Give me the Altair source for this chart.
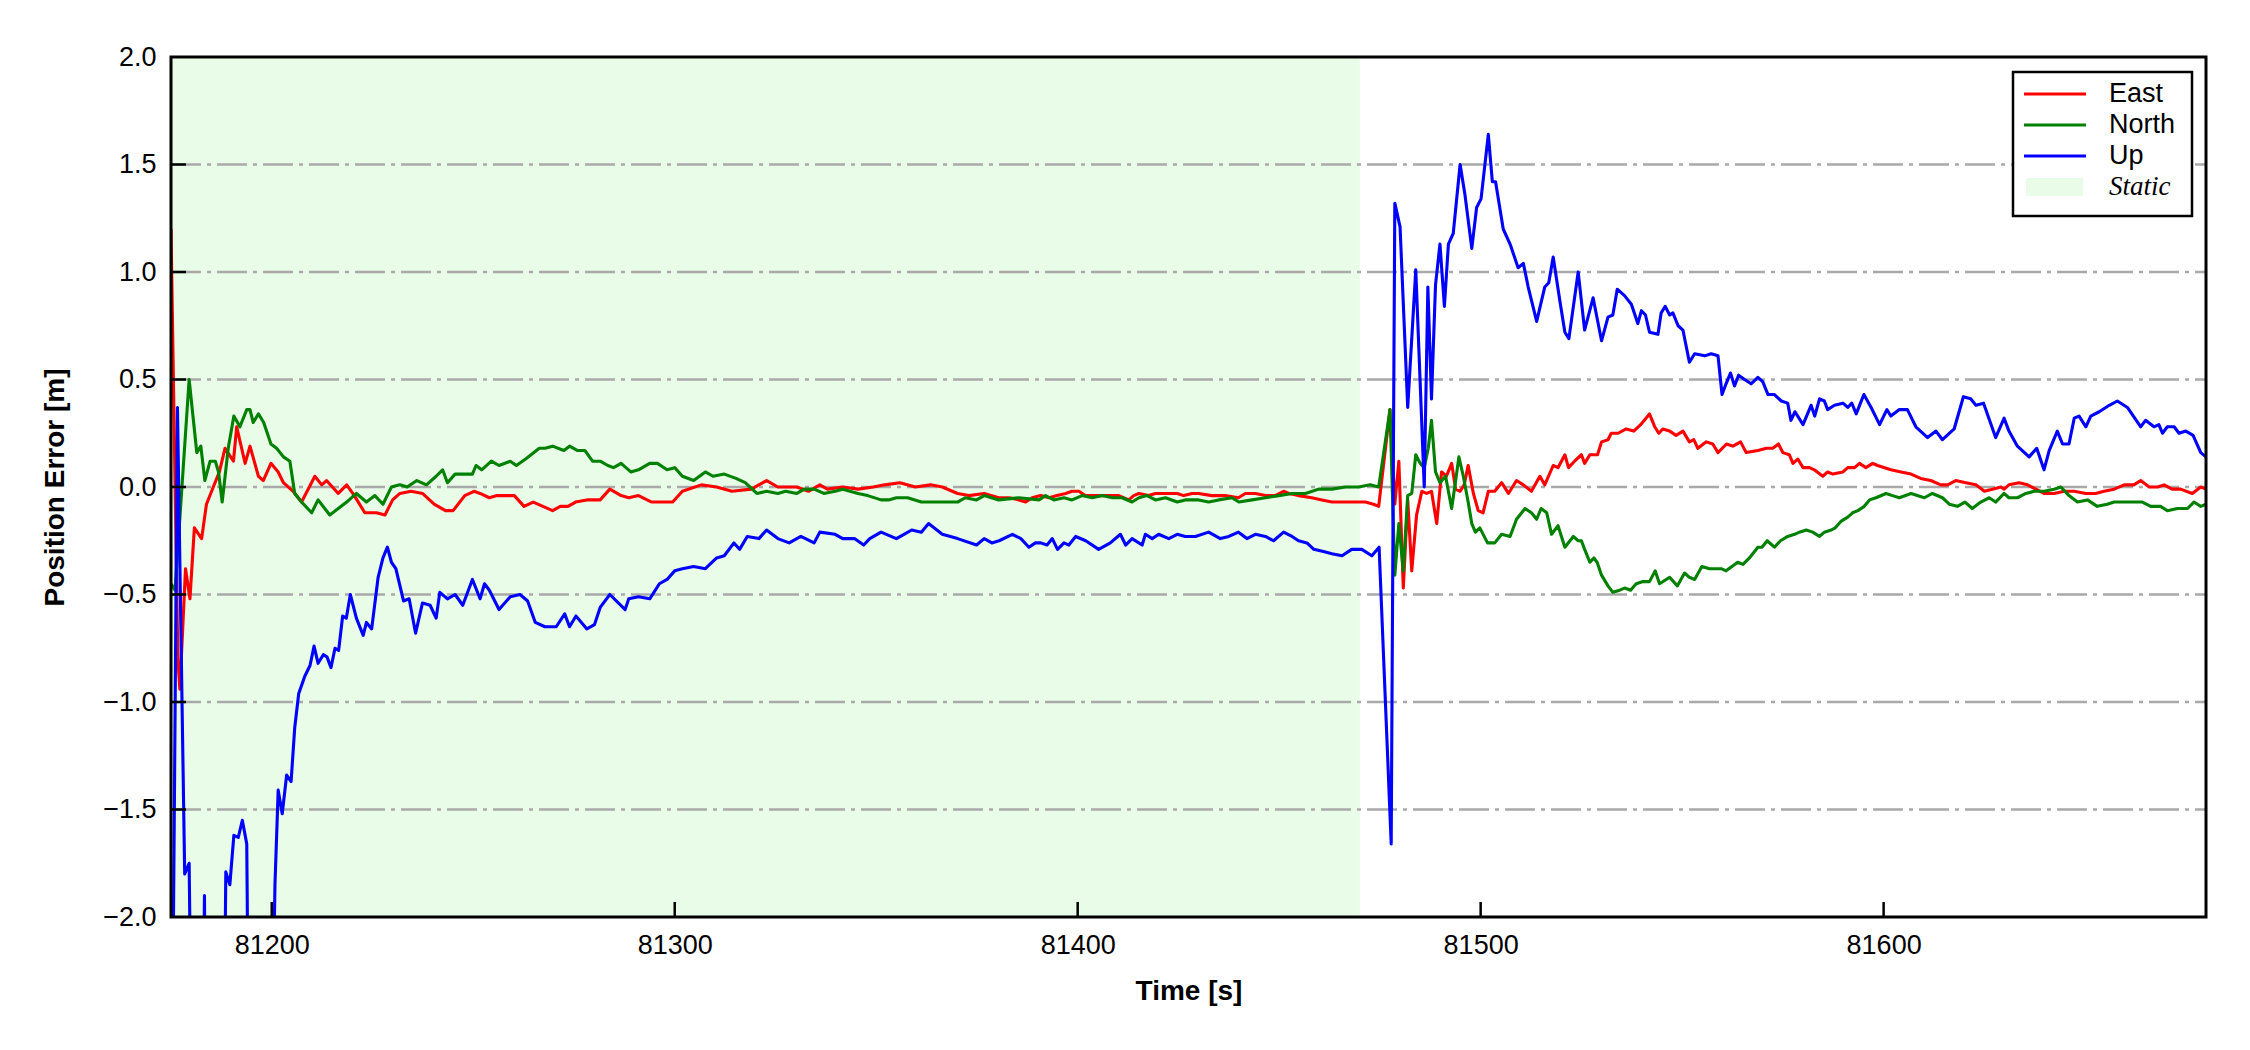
import altair as alt
import pandas as pd

# ---------------- data ----------------
SERIES = ["East", "North", "Up"]
STATIC_LABEL = "Static"
STATIC_START = [81175.0]
STATIC_END = [81470.0]

X_TICKS = [81200, 81300, 81400, 81500, 81600]
Y_TICKS = [-2.0, -1.5, -1.0, -0.5, 0.0, 0.5, 1.0, 1.5, 2.0]
GRID_Y = [-1.5, -1.0, -0.5, 0.0, 0.5, 1.0, 1.5]

east_t = [81175.0, 81176.7, 81177.2, 81178.6, 81179.7, 81180.8, 81182.6, 81183.8, 81185.5, 81187.0,
          81188.4, 81190.5, 81191.3, 81193.4, 81194.6, 81196.7, 81197.9, 81199.8, 81201.6, 81202.9,
          81205.3, 81207.4, 81210.7, 81212.4, 81213.6, 81216.5, 81218.6, 81220.5, 81223.1, 81226.0,
          81228.1, 81230.0, 81231.8, 81234.6, 81237.4, 81240.3, 81243.1, 81245.0, 81247.9, 81250.2,
          81251.7, 81254.0, 81255.9, 81257.8, 81260.2, 81262.6, 81264.9, 81267.3, 81269.7, 81271.6,
          81273.5, 81275.4, 81278.2, 81281.5, 81283.9, 81286.7, 81288.6, 81291.0, 81294.3, 81297.2,
          81299.5, 81301.9, 81306.6, 81310.4, 81314.2, 81319.0, 81322.8, 81325.6, 81330.3, 81333.2,
          81336.0, 81337.9, 81341.7, 81345.5, 81349.3, 81352.1, 81355.9, 81359.7, 81363.5, 81366.4,
          81370.2, 81373.0, 81376.8, 81380.4, 81383.0, 81385.4, 81387.1, 81388.7, 81390.8, 81392.9,
          81394.9, 81397.0, 81398.6, 81400.3, 81401.9, 81404.4, 81407.7, 81410.2, 81412.7, 81413.9,
          81415.2, 81417.6, 81419.3, 81421.8, 81424.7, 81426.3, 81428.4, 81430.0, 81433.3, 81436.6,
          81439.9, 81441.6, 81444.1, 81446.6, 81449.0, 81451.1, 81452.4, 81454.8, 81458.1, 81460.6,
          81463.1, 81465.6, 81468.1, 81469.7, 81471.4, 81473.4, 81474.7, 81477.5, 81478.7, 81479.7,
          81480.8, 81481.9, 81482.9, 81484.1, 81485.4, 81486.6, 81487.8, 81489.1, 81490.3, 81491.5,
          81492.8, 81493.8, 81494.9, 81495.9, 81496.9, 81498.2, 81499.4, 81500.6, 81501.9, 81503.5,
          81505.2, 81506.9, 81508.9, 81510.6, 81512.6, 81514.7, 81515.9, 81518.0, 81519.2, 81520.9,
          81521.8, 81523.3, 81525.0, 81525.8, 81527.1, 81529.0, 81530.0, 81531.6, 81532.4, 81534.1,
          81536.1, 81538.0, 81539.7, 81541.9, 81543.2, 81544.2, 81545.2, 81546.9, 81548.5, 81550.2,
          81551.8, 81552.9, 81553.9, 81556.0, 81557.6, 81558.9, 81561.0, 81562.6, 81564.5, 81565.9,
          81568.8, 81570.9, 81572.5, 81573.9, 81575.0, 81576.6, 81577.5, 81578.7, 81580.0, 81581.6,
          81582.8, 81584.9, 81586.1, 81587.4, 81589.9, 81591.1, 81592.8, 81594.0, 81595.6, 81597.3,
          81598.5, 81601.8, 81604.3, 81606.8, 81609.2, 81611.7, 81614.2, 81615.9, 81617.9, 81620.4,
          81622.9, 81625.0, 81627.0, 81629.1, 81629.9, 81631.1, 81633.6, 81635.7, 81637.8, 81639.8,
          81642.3, 81644.8, 81647.3, 81650.2, 81652.6, 81654.7, 81657.2, 81659.7, 81662.1, 81663.8,
          81665.9, 81668.0, 81669.6, 81671.6, 81673.7, 81676.6, 81678.7, 81680.0]
east_v = [1.20, -0.80, -0.94, -0.38, -0.52, -0.19, -0.24, -0.08, 0.00, 0.07,
          0.18, 0.12, 0.28, 0.11, 0.19, 0.05, 0.03, 0.11, 0.07, 0.02,
          -0.02, -0.07, 0.05, 0.01, 0.03, -0.03, 0.01, -0.04, -0.12, -0.12,
          -0.13, -0.06, -0.03, -0.02, -0.03, -0.08, -0.11, -0.11, -0.04, -0.02,
          -0.03, -0.05, -0.04, -0.04, -0.04, -0.09, -0.07, -0.09, -0.11, -0.09,
          -0.09, -0.07, -0.06, -0.06, -0.01, -0.04, -0.05, -0.04, -0.07, -0.07,
          -0.07, -0.02, 0.01, 0.00, -0.02, -0.01, 0.03, 0.00, 0.00, -0.02,
          0.01, -0.01, 0.00, -0.01, 0.00, 0.01, 0.02, 0.00, 0.01, 0.00,
          -0.03, -0.04, -0.03, -0.05, -0.05, -0.06, -0.07, -0.05, -0.04, -0.05,
          -0.04, -0.03, -0.02, -0.02, -0.04, -0.04, -0.04, -0.04, -0.06, -0.04,
          -0.03, -0.04, -0.03, -0.03, -0.03, -0.04, -0.03, -0.03, -0.04, -0.04,
          -0.05, -0.03, -0.03, -0.04, -0.04, -0.02, -0.03, -0.04, -0.05, -0.06,
          -0.07, -0.07, -0.07, -0.07, -0.07, -0.08, -0.09, 0.36, -0.08, 0.12,
          -0.47, -0.06, -0.39, -0.13, -0.02, -0.03, -0.02, -0.17, 0.07, 0.05,
          0.11, -0.01, -0.02, 0.01, 0.10, -0.03, -0.11, -0.12, -0.02, -0.02,
          0.02, -0.03, 0.03, 0.01, -0.02, 0.05, 0.01, 0.10, 0.09, 0.15,
          0.09, 0.12, 0.15, 0.11, 0.15, 0.15, 0.21, 0.22, 0.25, 0.25,
          0.27, 0.26, 0.29, 0.34, 0.28, 0.25, 0.27, 0.26, 0.24, 0.26,
          0.21, 0.22, 0.18, 0.21, 0.20, 0.16, 0.20, 0.19, 0.21, 0.16,
          0.17, 0.18, 0.18, 0.20, 0.16, 0.15, 0.11, 0.13, 0.09, 0.09,
          0.08, 0.05, 0.07, 0.06, 0.07, 0.09, 0.09, 0.11, 0.09, 0.11,
          0.10, 0.08, 0.07, 0.06, 0.04, 0.03, 0.01, 0.01, 0.03, 0.02,
          0.01, -0.02, -0.01, 0.00, -0.01, 0.01, 0.02, 0.01, -0.01, -0.03,
          -0.03, -0.02, -0.02, -0.03, -0.03, -0.02, -0.01, 0.01, 0.01, 0.03,
          0.00, 0.00, 0.01, -0.01, -0.01, -0.03, 0.00, -0.01]

north_t = [81175.0, 81176.0, 81179.5, 81181.4, 81182.4, 81183.4, 81184.7, 81186.0, 81186.8, 81187.7,
           81189.2, 81190.6, 81192.1, 81193.8, 81194.6, 81195.4, 81196.7, 81198.0, 81199.8, 81201.2,
           81202.9, 81204.5, 81205.7, 81207.4, 81209.9, 81211.5, 81214.4, 81216.5, 81218.6, 81221.0,
           81223.5, 81225.6, 81227.6, 81229.7, 81231.8, 81233.6, 81236.0, 81238.4, 81240.8, 81242.4,
           81243.6, 81245.5, 81249.8, 81250.7, 81252.1, 81254.5, 81256.4, 81259.2, 81260.7, 81263.0,
           81266.4, 81267.8, 81269.7, 81272.5, 81273.9, 81275.8, 81277.7, 81279.6, 81281.5, 81283.4,
           81284.8, 81286.7, 81289.1, 81291.0, 81293.8, 81295.7, 81298.1, 81300.0, 81301.9, 81304.7,
           81307.6, 81309.5, 81312.3, 81315.2, 81317.5, 81320.4, 81322.8, 81325.6, 81327.5, 81330.3,
           81332.2, 81334.6, 81337.0, 81339.8, 81341.7, 81345.5, 81347.9, 81351.2, 81353.1, 81355.0,
           81357.8, 81361.2, 81364.5, 81367.3, 81370.2, 81372.1, 81374.9, 81376.8, 81380.4, 81385.4,
           81390.4, 81392.0, 81394.1, 81396.6, 81398.6, 81401.1, 81403.6, 81406.1, 81408.6, 81411.0,
           81413.5, 81415.2, 81417.2, 81419.3, 81421.8, 81424.7, 81426.7, 81430.0, 81432.5, 81435.0,
           81438.3, 81440.0, 81443.3, 81446.6, 81449.9, 81453.2, 81456.5, 81459.8, 81463.1, 81466.4,
           81469.7, 81472.6, 81474.7, 81477.5, 81478.7, 81479.7, 81480.8, 81481.9, 81482.9, 81483.9,
           81485.0, 81486.0, 81487.0, 81487.8, 81488.8, 81489.9, 81491.3, 81492.8, 81493.8, 81494.6,
           81495.7, 81496.9, 81497.8, 81498.7, 81499.8, 81501.7, 81503.5, 81505.2, 81507.3, 81508.9,
           81511.0, 81512.6, 81513.9, 81515.0, 81516.4, 81517.6, 81519.2, 81520.9, 81523.0, 81524.2,
           81525.0, 81525.8, 81527.1, 81528.1, 81528.9, 81530.0, 81531.6, 81532.8, 81534.5, 81535.7,
           81537.2, 81538.6, 81540.3, 81541.9, 81543.3, 81544.4, 81546.9, 81548.8, 81550.6, 81551.8,
           81553.1, 81554.9, 81556.8, 81559.7, 81560.9, 81563.8, 81565.1, 81566.7, 81568.8, 81569.8,
           81571.1, 81572.9, 81574.4, 81576.2, 81577.9, 81579.1, 81580.8, 81582.4, 81584.1, 81585.3,
           81587.0, 81588.0, 81589.4, 81591.1, 81592.3, 81593.6, 81595.2, 81596.5, 81598.1, 81600.6,
           81602.2, 81603.9, 81606.8, 81610.1, 81612.1, 81614.6, 81616.3, 81618.3, 81620.2, 81622.0,
           81624.1, 81626.2, 81627.8, 81629.9, 81631.1, 81633.2, 81635.3, 81637.3, 81639.8, 81642.3,
           81644.0, 81646.0, 81648.1, 81650.6, 81653.0, 81655.5, 81657.2, 81659.2, 81662.1, 81664.2,
           81666.3, 81668.7, 81670.4, 81672.9, 81675.4, 81677.0, 81678.7, 81680.0]
north_v = [-0.45, -0.48, 0.50, 0.16, 0.19, 0.03, 0.12, 0.12, 0.07, -0.07,
           0.18, 0.33, 0.28, 0.36, 0.36, 0.30, 0.34, 0.30, 0.20, 0.18,
           0.14, 0.12, -0.03, -0.07, -0.12, -0.06, -0.13, -0.10, -0.07, -0.03,
           -0.07, -0.04, -0.08, 0.00, 0.01, 0.00, 0.03, 0.01, 0.05, 0.08,
           0.02, 0.06, 0.06, 0.10, 0.08, 0.12, 0.10, 0.12, 0.10, 0.13,
           0.18, 0.18, 0.19, 0.17, 0.19, 0.17, 0.17, 0.12, 0.12, 0.10,
           0.09, 0.11, 0.07, 0.08, 0.11, 0.11, 0.08, 0.09, 0.05, 0.03,
           0.07, 0.05, 0.06, 0.04, 0.02, -0.03, -0.02, -0.03, -0.02, -0.03,
           -0.01, -0.01, -0.03, -0.02, -0.01, -0.03, -0.04, -0.06, -0.06, -0.05,
           -0.05, -0.07, -0.07, -0.07, -0.07, -0.05, -0.06, -0.04, -0.06, -0.05,
           -0.06, -0.04, -0.06, -0.05, -0.06, -0.04, -0.05, -0.04, -0.05, -0.05,
           -0.07, -0.05, -0.04, -0.06, -0.05, -0.07, -0.06, -0.06, -0.07, -0.06,
           -0.05, -0.07, -0.06, -0.05, -0.04, -0.03, -0.03, -0.01, -0.01, 0.00,
           0.00, 0.01, 0.00, 0.36, -0.41, -0.17, -0.39, -0.04, -0.03, 0.15,
           0.11, 0.09, 0.18, 0.31, 0.07, 0.02, 0.05, -0.10, 0.03, 0.14,
           0.05, -0.07, -0.17, -0.21, -0.19, -0.26, -0.26, -0.22, -0.23, -0.15,
           -0.10, -0.12, -0.15, -0.10, -0.12, -0.22, -0.18, -0.28, -0.23, -0.25,
           -0.25, -0.29, -0.35, -0.33, -0.35, -0.41, -0.46, -0.49, -0.48, -0.47,
           -0.48, -0.45, -0.44, -0.44, -0.39, -0.45, -0.42, -0.46, -0.40, -0.42,
           -0.43, -0.37, -0.38, -0.38, -0.39, -0.35, -0.36, -0.33, -0.28, -0.28,
           -0.25, -0.28, -0.25, -0.23, -0.22, -0.21, -0.20, -0.21, -0.23, -0.21,
           -0.20, -0.19, -0.16, -0.14, -0.12, -0.11, -0.09, -0.06, -0.05, -0.03,
           -0.04, -0.05, -0.03, -0.05, -0.03, -0.05, -0.08, -0.09, -0.07, -0.10,
           -0.07, -0.05, -0.07, -0.03, -0.05, -0.05, -0.03, -0.02, -0.02, -0.01,
           0.00, -0.04, -0.07, -0.06, -0.09, -0.08, -0.07, -0.07, -0.07, -0.07,
           -0.09, -0.09, -0.11, -0.10, -0.10, -0.07, -0.09, -0.08]

up_t = [81175.0, 81176.6, 81178.4, 81179.5, 81180.3, 81182.8, 81183.3, 81183.8, 81188.0, 81188.6,
        81189.6, 81190.6, 81191.7, 81192.7, 81193.8, 81194.4, 81199.8, 81200.8, 81201.6, 81202.6,
        81203.7, 81204.8, 81205.7, 81206.7, 81208.2, 81209.5, 81210.5, 81211.5, 81212.8, 81213.7,
        81214.7, 81215.7, 81216.6, 81217.6, 81218.5, 81219.5, 81221.0, 81222.7, 81223.5, 81224.8,
        81226.4, 81227.6, 81228.7, 81229.7, 81230.8, 81232.7, 81234.1, 81235.7, 81237.4, 81239.3,
        81240.8, 81241.7, 81243.6, 81245.5, 81247.4, 81249.8, 81251.7, 81252.8, 81254.0, 81256.4,
        81259.2, 81261.6, 81263.5, 81265.4, 81267.8, 81270.6, 81272.7, 81273.9, 81275.5, 81278.2,
        81280.1, 81281.5, 81283.9, 81287.7, 81288.6, 81291.0, 81293.8, 81296.2, 81298.1, 81300.0,
        81301.9, 81304.7, 81307.6, 81310.4, 81312.3, 81314.7, 81316.1, 81318.0, 81320.9, 81322.8,
        81325.6, 81328.4, 81331.3, 81334.6, 81336.0, 81339.8, 81341.7, 81344.6, 81346.9, 81348.4,
        81351.2, 81355.0, 81356.9, 81358.8, 81361.2, 81363.0, 81366.4, 81370.2, 81374.9, 81376.8,
        81378.7, 81380.5, 81383.8, 81385.9, 81387.9, 81389.5, 81390.8, 81392.4, 81393.7, 81395.0,
        81396.6, 81397.8, 81399.5, 81402.0, 81405.2, 81408.1, 81410.6, 81411.9, 81413.5, 81416.0,
        81416.8, 81418.5, 81420.1, 81422.6, 81424.7, 81426.7, 81429.2, 81432.5, 81435.4, 81437.5,
        81439.9, 81442.0, 81444.1, 81446.6, 81448.6, 81451.1, 81453.2, 81454.8, 81456.9, 81458.6,
        81461.0, 81463.1, 81465.6, 81468.0, 81470.5, 81473.0, 81474.8, 81477.8, 81478.7, 81480.0,
        81481.9, 81483.9, 81486.0, 81486.9, 81487.8, 81488.8, 81489.9, 81491.0, 81492.0, 81493.2,
        81494.9, 81496.1, 81497.8, 81499.0, 81500.1, 81501.9, 81502.9, 81503.7, 81505.6, 81507.3,
        81509.3, 81510.6, 81511.8, 81513.9, 81515.9, 81516.9, 81518.0, 81519.7, 81520.9, 81521.9,
        81524.2, 81525.8, 81527.9, 81530.0, 81531.6, 81532.8, 81533.9, 81535.7, 81537.4, 81539.0,
        81539.9, 81540.9, 81541.9, 81544.0, 81544.8, 81545.8, 81546.9, 81547.7, 81549.0, 81550.2,
        81551.8, 81553.1, 81555.6, 81557.2, 81558.9, 81559.9, 81560.9, 81562.0, 81563.0, 81564.0,
        81565.5, 81567.1, 81568.8, 81570.0, 81571.3, 81572.9, 81574.6, 81576.2, 81577.0, 81578.0,
        81580.0, 81582.0, 81582.9, 81584.1, 81585.3, 81586.1, 81587.8, 81589.9, 81591.1, 81592.1,
        81593.2, 81595.1, 81596.9, 81599.0, 81600.8, 81601.8, 81603.9, 81605.9, 81608.0, 81610.9,
        81613.0, 81614.6, 81617.5, 81619.8, 81621.6, 81622.9, 81624.8, 81627.8, 81629.9, 81631.1,
        81633.2, 81636.1, 81638.0, 81639.8, 81641.1, 81643.1, 81644.4, 81646.0, 81647.3, 81648.5,
        81650.2, 81651.4, 81653.5, 81656.0, 81658.0, 81660.5, 81663.8, 81665.0, 81667.1, 81668.3,
        81669.2, 81670.4, 81672.1, 81673.3, 81675.0, 81676.8, 81678.7, 81680.0]
up_v = [-3.50, 0.37, -1.80, -1.75, -3.00, -3.00, -1.90, -3.00, -3.00, -1.79,
        -1.85, -1.62, -1.63, -1.55, -1.66, -3.00, -3.00, -1.85, -1.41, -1.52,
        -1.34, -1.37, -1.12, -0.96, -0.88, -0.83, -0.74, -0.82, -0.78, -0.79,
        -0.84, -0.75, -0.76, -0.60, -0.61, -0.50, -0.61, -0.69, -0.63, -0.66,
        -0.42, -0.33, -0.28, -0.35, -0.38, -0.53, -0.52, -0.68, -0.54, -0.55,
        -0.61, -0.49, -0.52, -0.50, -0.55, -0.43, -0.52, -0.45, -0.48, -0.57,
        -0.51, -0.50, -0.53, -0.63, -0.65, -0.65, -0.59, -0.65, -0.60, -0.66,
        -0.64, -0.56, -0.50, -0.57, -0.52, -0.51, -0.52, -0.45, -0.43, -0.39,
        -0.38, -0.37, -0.38, -0.33, -0.32, -0.26, -0.29, -0.23, -0.24, -0.20,
        -0.24, -0.26, -0.23, -0.26, -0.21, -0.22, -0.24, -0.24, -0.27, -0.24,
        -0.21, -0.24, -0.22, -0.20, -0.21, -0.17, -0.22, -0.24, -0.27, -0.24,
        -0.26, -0.25, -0.22, -0.24, -0.28, -0.26, -0.26, -0.27, -0.24, -0.29,
        -0.26, -0.27, -0.23, -0.25, -0.29, -0.26, -0.22, -0.27, -0.24, -0.27,
        -0.22, -0.24, -0.22, -0.24, -0.22, -0.23, -0.23, -0.21, -0.24, -0.23,
        -0.21, -0.24, -0.22, -0.23, -0.25, -0.21, -0.23, -0.25, -0.26, -0.29,
        -0.30, -0.31, -0.32, -0.29, -0.29, -0.32, -0.28, -1.66, 1.32, 1.21,
        0.37, 1.01, 0.00, 0.93, 0.41, 0.94, 1.13, 0.84, 1.13, 1.18,
        1.50, 1.36, 1.11, 1.30, 1.34, 1.64, 1.42, 1.42, 1.20, 1.13,
        1.02, 1.04, 0.93, 0.77, 0.93, 0.95, 1.07, 0.86, 0.72, 0.69,
        1.00, 0.73, 0.88, 0.68, 0.79, 0.80, 0.92, 0.89, 0.85, 0.76,
        0.82, 0.80, 0.72, 0.71, 0.81, 0.84, 0.80, 0.81, 0.75, 0.73,
        0.58, 0.62, 0.61, 0.62, 0.61, 0.43, 0.48, 0.53, 0.47, 0.52,
        0.50, 0.48, 0.51, 0.49, 0.43, 0.43, 0.40, 0.39, 0.31, 0.35,
        0.29, 0.38, 0.33, 0.41, 0.40, 0.36, 0.38, 0.39, 0.37, 0.39,
        0.34, 0.43, 0.37, 0.29, 0.36, 0.33, 0.36, 0.36, 0.28, 0.23,
        0.26, 0.22, 0.27, 0.42, 0.41, 0.38, 0.39, 0.23, 0.32, 0.26,
        0.19, 0.14, 0.18, 0.08, 0.17, 0.26, 0.20, 0.20, 0.32, 0.33,
        0.28, 0.33, 0.35, 0.38, 0.40, 0.37, 0.28, 0.31, 0.28, 0.29,
        0.25, 0.28, 0.28, 0.25, 0.26, 0.24, 0.16, 0.14]

COLORS = {"East": "#FF0000", "North": "#008000", "Up": "#0000FF"}
STATIC_COLOR = "#E8FCE8"

# ---------------- layout ----------------
PLOT_W, PLOT_H = 2035, 860
X_DOMAIN = [81175, 81680]
Y_DOMAIN = [-2.0, 2.0]
FONT = "Liberation Sans"

xscale = alt.Scale(domain=X_DOMAIN, nice=False, zero=False)
yscale = alt.Scale(domain=Y_DOMAIN, nice=False, zero=False)

xaxis = alt.Axis(values=X_TICKS, format="d", title="Time [s]", grid=False, domain=False,
                 ticks=False, labelFont=FONT, labelFontSize=27, labelColor="black",
                 labelPadding=15, labelFlush=False, labelOverlap=False,
                 titleFont=FONT, titleFontSize=28, titleFontWeight="bold", titleColor="black",
                 titleX=PLOT_W / 2, titleY=74, titleBaseline="middle", titleAlign="center")
yaxis = alt.Axis(values=Y_TICKS, format=".1f", title="Position Error [m]", grid=False,
                 domain=False, ticks=False, labelFont=FONT, labelFontSize=27,
                 labelColor="black", labelPadding=15, labelFlush=False, labelOverlap=False,
                 titleFont=FONT, titleFontSize=28, titleFontWeight="bold", titleColor="black",
                 titleX=-116, titleY=PLOT_H / 2, titleAngle=270, titleBaseline="middle",
                 titleAlign="center")

X = alt.X("t:Q", scale=xscale, axis=xaxis)
Y = alt.Y("v:Q", scale=yscale, axis=yaxis)

static_df = pd.DataFrame({"t": STATIC_START, "t2": STATIC_END})
static = alt.Chart(static_df).mark_rect(color=STATIC_COLOR).encode(
    x=X, x2="t2:Q", y=alt.value(0), y2=alt.value(PLOT_H))

grid_df = pd.DataFrame({"v": GRID_Y})
grid = alt.Chart(grid_df).mark_rule(color="#A9A9A9", strokeWidth=2.5,
                                    strokeDash=[30, 6, 4, 6]).encode(
    y=Y, x=alt.value(0), x2=alt.value(PLOT_W))

series_data = {"East": (east_t, east_v), "North": (north_t, north_v), "Up": (up_t, up_v)}
lines = []
for name in SERIES:
    tt, vv = series_data[name]
    df = pd.DataFrame({"t": tt, "v": vv})
    lines.append(alt.Chart(df).mark_line(color=COLORS[name], strokeWidth=3.1, clip=True,
                                         strokeJoin="round").encode(x=X, y=Y))

xt_df = pd.DataFrame({"t": X_TICKS})
xticks = alt.Chart(xt_df).mark_rule(color="black", strokeWidth=2.5).encode(
    x=X, y=alt.value(PLOT_H), y2=alt.value(PLOT_H - 15))
yt_df = pd.DataFrame({"v": GRID_Y})
yticks = alt.Chart(yt_df).mark_rule(color="black", strokeWidth=2.5).encode(
    y=Y, x=alt.value(0), x2=alt.value(15))

one = pd.DataFrame({"a": [0]})
frame = alt.Chart(one).mark_rect(fillOpacity=0, stroke="black", strokeWidth=3).encode(
    x=alt.value(0), x2=alt.value(PLOT_W), y=alt.value(0), y2=alt.value(PLOT_H))

# ---------------- legend ----------------
LX0, LX1, LY0, LY1 = 1842, 2021, 15, 159
SYM_X0, SYM_X1, TXT_X = 1853, 1915, 1938
ROW_Y = [37, 68, 99, 130]

legend_layers = [
    alt.Chart(one).mark_rect(fill="white", stroke="black", strokeWidth=2.5).encode(
        x=alt.value(LX0), x2=alt.value(LX1), y=alt.value(LY0), y2=alt.value(LY1))
]
for i, name in enumerate(SERIES):
    legend_layers.append(alt.Chart(one).mark_rule(color=COLORS[name], strokeWidth=3).encode(
        x=alt.value(SYM_X0), x2=alt.value(SYM_X1), y=alt.value(ROW_Y[i])))
    legend_layers.append(alt.Chart(one).mark_text(align="left", baseline="middle", font=FONT,
                                                  fontSize=27, color="black").encode(
        x=alt.value(TXT_X), y=alt.value(ROW_Y[i]), text=alt.value(name)))
legend_layers.append(alt.Chart(one).mark_rect(color=STATIC_COLOR).encode(
    x=alt.value(SYM_X0 + 2), x2=alt.value(SYM_X1 - 3), y=alt.value(ROW_Y[3] - 9),
    y2=alt.value(ROW_Y[3] + 9)))
legend_layers.append(alt.Chart(one).mark_text(align="left", baseline="middle",
                                              font="Liberation Serif", fontStyle="italic",
                                              fontSize=27, color="black").encode(
    x=alt.value(TXT_X), y=alt.value(ROW_Y[3]), text=alt.value(STATIC_LABEL)))

chart = alt.layer(static, grid, *lines, xticks, yticks, frame, *legend_layers).properties(
    width=PLOT_W, height=PLOT_H,
    padding={"left": 163, "top": 49, "right": 36, "bottom": 125},
    autosize=alt.AutoSizeParams(type="none"),
    background="white",
).configure_view(stroke=None)

chart.save("out.html", embed_options={"renderer": "svg", "actions": False})
